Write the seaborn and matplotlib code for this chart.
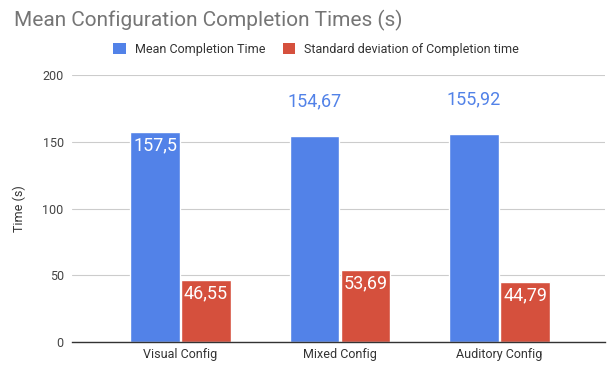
import matplotlib
matplotlib.use("Agg")
import matplotlib.pyplot as plt
import seaborn as sns
import pandas as pd

categories = ["Visual Config", "Mixed Config", "Auditory Config"]
mean_times = [157.5, 154.67, 155.92]
std_times = [46.55, 53.69, 44.79]
series_names = ["Mean Completion Time", "Standard deviation of Completion time"]
yticks = [0, 50, 100, 150, 200]

sns.set_theme(style="white")
plt.rcParams['font.family'] = ['Roboto', 'DejaVu Sans']

df = pd.DataFrame({
    "Config": categories * 2,
    "Series": [series_names[0]] * 3 + [series_names[1]] * 3,
    "Value": mean_times + std_times,
})

blue = "#5282e8"
red = "#d5503d"

fig = plt.figure(figsize=(6.16, 3.68), dpi=100)
ax = fig.add_axes([0.117, 0.0707, 0.865, 0.725])
sns.barplot(data=df, x="Config", y="Value", hue="Series", palette=[blue, red],
            width=0.64, gap=0.03, ax=ax, legend=False, saturation=1)

ax.set_xlim(-0.68, 2.66)
ax.set_ylim(0, 200)
ax.set_yticks(yticks)
ax.set_yticklabels([str(t) for t in yticks], color="#444444", fontsize=9)
ax.tick_params(axis="x", colors="#333333", labelsize=9, length=0, pad=4)
ax.tick_params(axis="y", length=0, pad=6)
ax.grid(axis="y", color="#cccccc", linewidth=0.8)
ax.set_axisbelow(True)
for s in ["top", "right", "left"]:
    ax.spines[s].set_visible(False)
ax.spines["bottom"].set_color("#333333")
ax.spines["bottom"].set_linewidth(1)
ax.set_xlabel("")
ax.set_ylabel("Time (s)", color="#333333", fontsize=9, labelpad=12)

def fmt(v):
    s = f"{v:.2f}".rstrip("0").rstrip(".")
    return s.replace(".", ",")

containers = ax.containers
for i, bar in enumerate(containers[0]):
    h = bar.get_height()
    x = bar.get_x() + bar.get_width() / 2
    if i == 0:
        ax.text(x, h - 3, fmt(h), ha="center", va="top", color="white", fontsize=13)
    else:
        ax.text(x, h + 19, fmt(h), ha="center", va="bottom", color=blue, fontsize=13)
for bar in containers[1]:
    h = bar.get_height()
    x = bar.get_x() + bar.get_width() / 2
    ax.text(x, h - 3, fmt(h), ha="center", va="top", color="white", fontsize=13)

fig.text(0.023, 0.945, "Mean Configuration Completion Times (s)", color="#757575",
         fontsize=15, ha="left", va="center")

from matplotlib.patches import Patch
handles = [Patch(facecolor=blue, edgecolor="none"), Patch(facecolor=red, edgecolor="none")]
fig.legend(handles, series_names, loc="center", bbox_to_anchor=(0.513, 0.866), ncol=2,
           frameon=False, fontsize=9, handlelength=1.0, handleheight=1.0,
           columnspacing=1.4, handletextpad=0.7, labelcolor="#333333")

fig.savefig("out.png", dpi=100)
